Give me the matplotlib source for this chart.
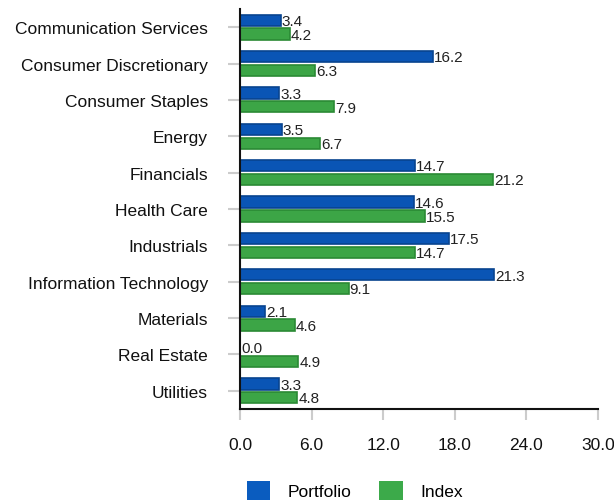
import matplotlib
matplotlib.use("Agg")
import matplotlib.pyplot as plt
from matplotlib.patches import Patch
import numpy as np

sectors = ["Communication Services", "Consumer Discretionary", "Consumer Staples",
           "Energy", "Financials", "Health Care", "Industrials",
           "Information Technology", "Materials", "Real Estate", "Utilities"]
portfolio = [3.4, 16.2, 3.3, 3.5, 14.7, 14.6, 17.5, 21.3, 2.1, 0.0, 3.3]
index_w = [4.2, 6.3, 7.9, 6.7, 21.2, 15.5, 14.7, 9.1, 4.6, 4.9, 4.8]
xticks = [0, 6, 12, 18, 24, 30]
series_names = ["Portfolio", "Index"]

plt.rcParams["font.family"] = ["Liberation Sans", "DejaVu Sans"]

blue = "#0a55b5"
blue_edge = "#08448f"
green = "#3ca546"
green_edge = "#2b8a35"
legend_blue = "#0a5cbf"
legend_green = "#3caa4a"

fig = plt.figure(figsize=(6.14, 5.02), dpi=100)
ax = fig.add_axes([240/614, 1 - 410/502, 358/614, 400/502])

y = np.arange(len(sectors))
h = 0.31
off = 0.19
ax.barh(y - off, portfolio, height=h, color=blue, edgecolor=blue_edge, linewidth=1.2)
ax.barh(y + off, index_w, height=h, color=green, edgecolor=green_edge, linewidth=1.2)

for yy, v in zip(y, portfolio):
    ax.text(v + 0.08, yy - off + 0.02, f"{v:.1f}", va="center", ha="left", fontsize=11, color="#222222")
for yy, v in zip(y, index_w):
    ax.text(v + 0.08, yy + off + 0.02, f"{v:.1f}", va="center", ha="left", fontsize=11, color="#222222")

ax.set_ylim(len(sectors) - 0.5, -0.5)
ax.set_xlim(0, 30)
ax.set_yticks(y)
ax.set_yticklabels(sectors, fontsize=12.5, color="#111111")
ax.set_xticks(xticks)
ax.set_xticklabels([f"{t:.1f}" for t in xticks], fontsize=12.5, color="#111111")
ax.tick_params(axis="y", length=9, color="#cccccc", width=1.5, pad=14)
ax.tick_params(axis="x", length=8, color="#cccccc", width=1.5, pad=12)

for s in ["top", "right"]:
    ax.spines[s].set_visible(False)
for s in ["left", "bottom"]:
    ax.spines[s].set_color("#111111")
    ax.spines[s].set_linewidth(1.5)

handles = [Patch(facecolor=legend_blue, edgecolor="none"),
           Patch(facecolor=legend_green, edgecolor="none")]
fig.legend(handles, series_names, loc="lower center", bbox_to_anchor=(0.578, -0.03),
           ncol=2, frameon=False, fontsize=12.5, handlelength=1.35, handleheight=1.35,
           columnspacing=1.6, handletextpad=1.0)

fig.savefig("out.png", dpi=100)
